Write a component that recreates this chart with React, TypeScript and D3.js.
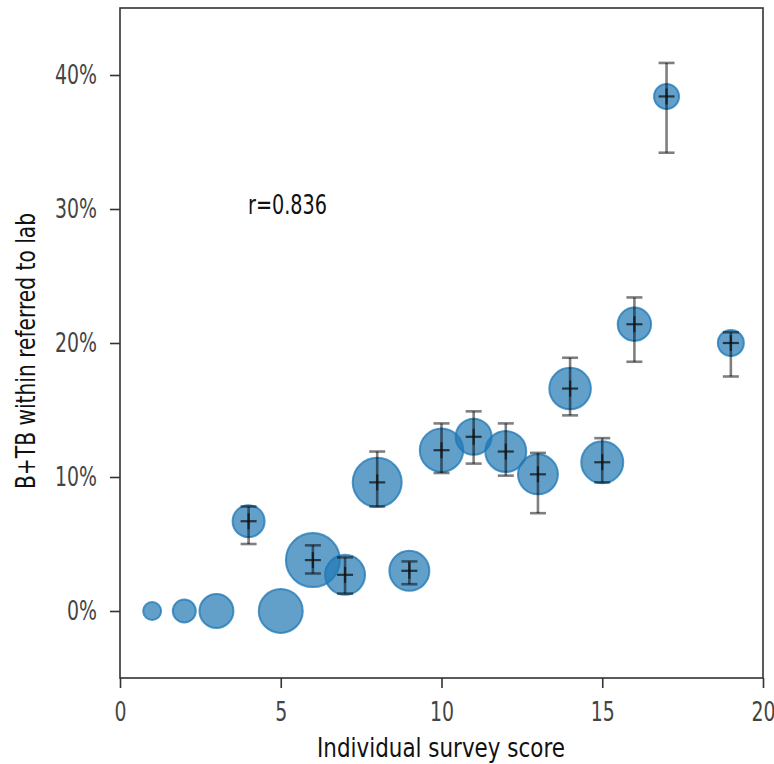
import * as d3 from 'd3';
import React, { useRef, useEffect } from 'react';

// survey score, share of B+TB (%), error bar low/high (%), bubble radius (px)
const scores = [1, 2, 3, 5, 4, 6, 7, 9, 8, 10, 11, 12, 13, 14, 15, 16, 19, 17];
const pcts = [0, 0, 0, 0, 6.7, 3.8, 2.7, 3.0, 9.6, 12.0, 13.0, 11.9, 10.2, 16.6, 11.1, 21.4, 20.0, 38.4];
const errLow = [null, null, null, null, 5.0, 2.8, 1.3, 2.0, 7.8, 10.3, 11.0, 10.1, 7.3, 14.6, 9.6, 18.6, 17.5, 34.2];
const errHigh = [null, null, null, null, 7.8, 4.9, 4.0, 3.7, 11.9, 14.0, 14.9, 14.0, 11.8, 18.9, 12.9, 23.4, 20.8, 40.9];
const sizes = [9, 11.5, 17, 22, 16, 27, 20, 20, 24.5, 21.7, 18, 20.5, 20, 20.8, 21, 16.7, 13, 12.5];

const xTicks = [0, 5, 10, 15, 20];
const yTicks = [0, 10, 20, 30, 40];

const W = 774;
const H = 764;
const FONT = "'DejaVu Sans', sans-serif";
const SX = 0.7; // squeeze glyphs to mimic a condensed face

function BubbleChart() {
    const ref = useRef(null);

    useEffect(() => {
        const svg = d3.select(ref.current);
        svg.selectAll('*').remove();

        const left = 120, right = 763, top = 8, bottom = 678;

        const x = d3.scaleLinear().domain([0, 20]).range([left, right]);
        const y = d3.scaleLinear().domain([-5, 45]).range([bottom, top]);

        const data = scores.map((s, i) => ({
            x: s, y: pcts[i], lo: errLow[i], hi: errHigh[i], r: sizes[i]
        }));

        // frame
        svg.append('rect')
            .attr('x', left).attr('y', top)
            .attr('width', right - left).attr('height', bottom - top)
            .attr('fill', 'none').attr('stroke', '#333').attr('stroke-width', 1.6);

        // axes
        const xAxis = svg.append('g')
            .attr('transform', `translate(0, ${bottom})`)
            .call(d3.axisBottom(x).tickValues(xTicks).tickSize(10).tickPadding(14).tickSizeOuter(0));
        const yAxis = svg.append('g')
            .attr('transform', `translate(${left}, 0)`)
            .call(d3.axisLeft(y).tickValues(yTicks).tickFormat(d => d + '%').tickSize(10).tickPadding(13).tickSizeOuter(0));

        [xAxis, yAxis].forEach(g => {
            g.select('.domain').remove();
            g.selectAll('line').attr('stroke', '#333').attr('stroke-width', 1.6);
            g.selectAll('text')
                .attr('fill', '#444')
                .style('font-family', FONT)
                .style('font-size', '27px');
        });
        xAxis.selectAll('text').attr('transform', `scale(${SX},1)`);
        yAxis.selectAll('text')
            .attr('x', -23 / SX)
            .attr('transform', `scale(${SX},1)`);

        // bubbles
        svg.append('g').selectAll('circle')
            .data(data)
            .join('circle')
            .attr('cx', d => x(d.x))
            .attr('cy', d => y(d.y))
            .attr('r', d => d.r)
            .attr('fill', '#1f77b4')
            .attr('fill-opacity', 0.7)
            .attr('stroke', '#1f77b4')
            .attr('stroke-opacity', 0.75)
            .attr('stroke-width', 2);

        const withErr = data.filter(d => d.lo !== null);

        // error bars
        const eb = svg.append('g')
            .attr('stroke', '#000')
            .attr('stroke-opacity', 0.5)
            .attr('stroke-width', 2.6);
        eb.selectAll('line.v').data(withErr).join('line').attr('class', 'v')
            .attr('x1', d => x(d.x)).attr('x2', d => x(d.x))
            .attr('y1', d => y(d.lo)).attr('y2', d => y(d.hi));
        eb.selectAll('line.lo').data(withErr).join('line').attr('class', 'lo')
            .attr('x1', d => x(d.x) - 8).attr('x2', d => x(d.x) + 8)
            .attr('y1', d => y(d.lo)).attr('y2', d => y(d.lo));
        eb.selectAll('line.hi').data(withErr).join('line').attr('class', 'hi')
            .attr('x1', d => x(d.x) - 8).attr('x2', d => x(d.x) + 8)
            .attr('y1', d => y(d.hi)).attr('y2', d => y(d.hi));

        // centre markers
        const cm = svg.append('g')
            .attr('stroke', '#111')
            .attr('stroke-opacity', 0.75)
            .attr('stroke-width', 2.2);
        cm.selectAll('line.h').data(withErr).join('line').attr('class', 'h')
            .attr('x1', d => x(d.x) - 8).attr('x2', d => x(d.x) + 8)
            .attr('y1', d => y(d.y)).attr('y2', d => y(d.y));
        cm.selectAll('line.v').data(withErr).join('line').attr('class', 'v')
            .attr('x1', d => x(d.x)).attr('x2', d => x(d.x))
            .attr('y1', d => y(d.y) - 8).attr('y2', d => y(d.y) + 8);

        // annotation
        svg.append('text')
            .attr('x', 248).attr('y', 214)
            .attr('textLength', 79)
            .attr('lengthAdjust', 'spacingAndGlyphs')
            .attr('fill', '#111')
            .style('font-family', FONT)
            .style('font-size', '26px')
            .text('r=0.836');

        // labels
        svg.append('text')
            .attr('x', 317).attr('y', 757)
            .attr('textLength', 248)
            .attr('lengthAdjust', 'spacingAndGlyphs')
            .attr('fill', '#111')
            .style('font-family', FONT)
            .style('font-size', '26px')
            .text('Individual survey score');

        svg.append('text')
            .attr('transform', `translate(35, 489) rotate(-90)`)
            .attr('textLength', 276)
            .attr('lengthAdjust', 'spacingAndGlyphs')
            .attr('fill', '#111')
            .style('font-family', FONT)
            .style('font-size', '27px')
            .text('B+TB within referred to lab');
    }, []);

    return (
        <svg ref={ref} width={W} height={H}
            style={{ position: 'absolute', left: 0, top: 0, background: '#fff' }} />
    );
}

export default function App() {
    return <BubbleChart />;
}
